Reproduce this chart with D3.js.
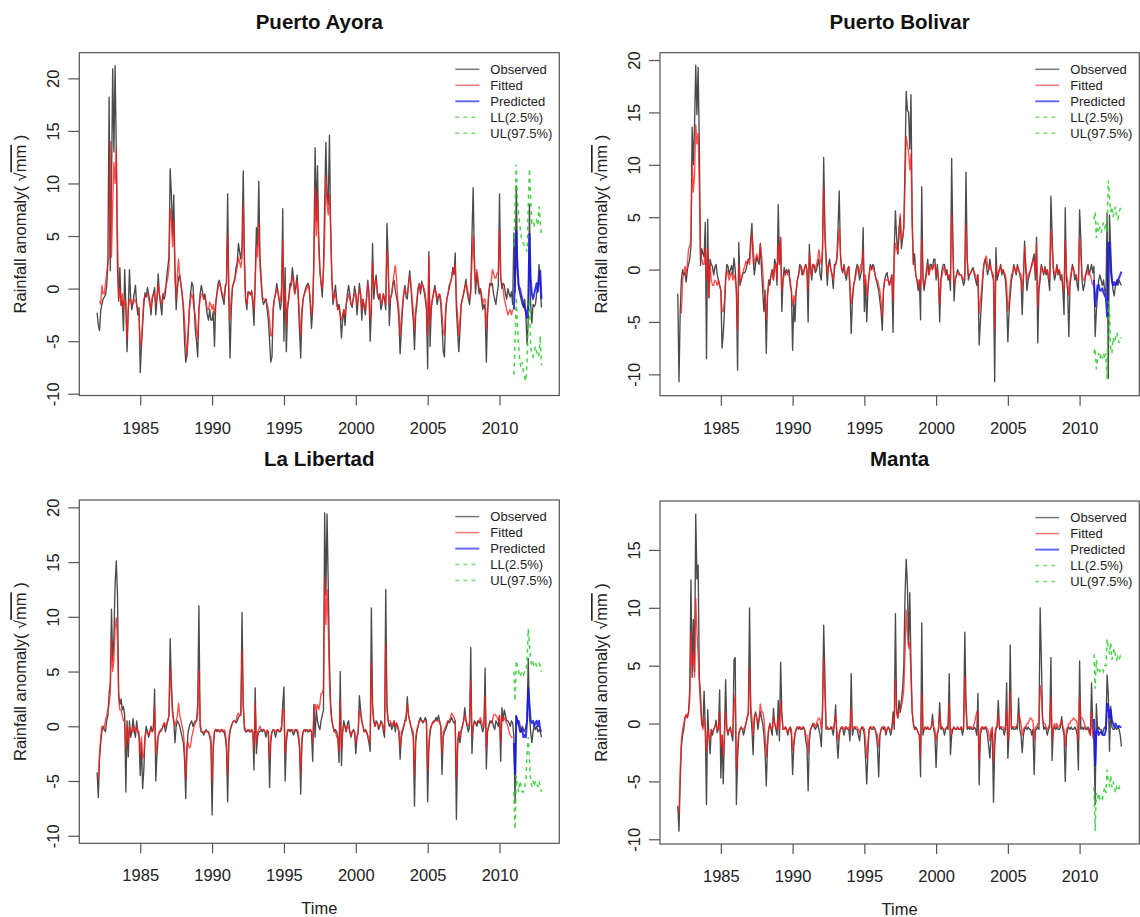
<!DOCTYPE html>
<html><head><meta charset="utf-8">
<script src="https://cdn.jsdelivr.net/npm/d3@7"></script>
<style>body{margin:0;background:#fff}</style>
</head><body>
<svg id="c" width="1140" height="917" xmlns="http://www.w3.org/2000/svg"></svg>
<script>
const startYear = 1982, predStart = 2011;
const xTicks = [1985,1990,1995,2000,2005,2010];
const titles = ["Puerto Ayora","Puerto Bolivar","La Libertad","Manta"];
const yTicksA = [-10,-5,0,5,10,15,20];
const yTicksB = [-10,-5,0,5,10,15];
const legendLabels = ["Observed","Fitted","Predicted","LL(2.5%)","UL(97.5%)"];

// ---------- Puerto Ayora ----------
const obsPA = [
-2.3,-3.5,-4.0,-2.1,-1.5,-1.0,-0.8,-0.6,0.2,2.5,18.2,1.7,
10.0,20.9,13.0,21.2,13.3,2.0,-1.2,2.0,-1.6,-1.2,-4.0,1.8,
-1.5,-6.0,-2.0,1.8,-1.0,-2.0,-1.2,-0.5,0.3,-1.5,-2.5,-1.8,
-8.0,-5.5,-3.5,-1.5,-0.4,-0.8,0.1,-0.5,-1.2,-2.5,-1.0,-0.5,
0.1,-2.5,-1.0,1.4,-0.6,-1.5,-2.5,-0.5,-1.0,-0.5,1.0,2.0,
3.0,11.4,9.0,5.0,8.9,2.0,-2.0,0.0,1.0,1.3,0.5,-0.5,
-2.0,-5.0,-7.0,-6.3,-4.5,-2.0,-0.5,0.6,0.3,-1.5,-4.0,-5.0,
-6.5,-2.0,-0.5,0.3,-0.3,-1.0,-0.5,-1.5,-2.5,-3.0,-2.0,-3.0,
-3.0,-2.2,-5.5,-1.5,-0.5,0.5,0.8,0.3,-0.5,-1.0,-1.5,0.3,
0.5,9.0,-1.5,-6.6,-2.0,0.0,0.6,1.0,2.0,2.5,4.3,3.5,
2.8,4.0,11.2,3.0,-1.0,-2.0,-0.3,-0.4,-0.6,-0.2,-1.5,-3.5,
1.0,5.8,4.0,10.2,3.0,1.0,-1.0,-1.5,-1.2,-1.0,-2.0,-3.0,
-5.0,-7.0,-6.5,-2.0,-1.0,-0.5,0.5,-0.3,-1.2,-2.0,-1.0,7.6,
-5.0,2.0,-6.0,-2.0,-1.0,0.5,0.3,2.0,1.0,-0.5,0.3,1.3,
-1.0,-4.0,-6.6,-2.5,-1.0,-0.5,0.0,0.3,0.5,0.2,-1.5,-3.8,
-2.0,3.0,13.4,6.5,11.7,5.0,2.0,0.5,-0.8,2.0,8.0,13.9,
9.0,8.0,14.6,5.7,1.0,-1.5,-0.5,0.3,-1.0,-2.0,-1.5,-2.5,
-4.7,-3.0,-2.0,-3.5,-1.5,-0.5,0.3,-0.5,-1.5,-1.8,-0.8,0.2,
-0.5,-2.5,-1.0,0.5,-0.5,-3.0,-1.0,-1.8,-2.5,-0.8,0.8,-0.5,
-5.0,-2.0,4.3,-1.0,0.5,1.3,-0.5,-1.0,-0.5,-2.0,-1.5,-0.5,
-1.0,-2.0,6.2,3.0,-3.5,-1.0,-0.5,0.5,0.8,-0.2,-0.8,-1.5,
-3.0,-6.2,-4.0,-2.0,-0.5,0.3,-0.8,-1.0,0.5,1.7,0.2,-1.5,
-3.0,-5.8,-2.5,-1.5,0.0,0.5,-0.5,0.7,0.3,-0.3,-1.0,-2.0,
-7.6,3.5,-5.5,-2.0,-1.0,-0.3,0.3,-0.5,-1.5,-0.8,-0.6,-1.5,
-3.5,-6.0,-6.5,-2.5,-1.0,-0.5,0.3,0.6,1.0,2.0,1.3,3.4,
-2.0,-4.0,-6.0,-4.0,-1.5,-1.0,-0.5,0.2,0.9,-0.3,-1.0,-1.5,
0.0,5.0,9.6,3.0,-0.5,1.5,0.5,-0.5,0.0,-1.0,-2.0,-1.5,
-2.0,-7.0,-2.5,-0.5,0.5,0.3,0.5,-0.5,-1.0,-1.5,-0.5,0.3,
9.0,1.0,0.0,0.5,0.3,-0.5,-1.0,0.0,-0.5,-0.8,-0.3,-1.5,
5.3,-0.3,9.8,2.0,0.0,-0.5,-1.0,-1.5,-1.8,-1.0,-2.5,-5.3,
-3.0,8.0,-1.5,-3.3,-1.5,-1.7,-1.5,-0.5,0.2,2.3,0.5,-1.8];
const fitPA = [
null,null,-1.2,-1.5,0.3,-0.5,-0.5,0.5,1.5,2.5,3.0,14.0,
3.0,8.0,12.0,10.0,13.3,5.0,-1.0,0.0,-1.5,-0.5,-2.0,-1.0,
-1.5,-4.8,-2.0,-1.0,-1.0,-1.5,-1.5,-1.0,-1.2,-1.5,-2.0,-2.5,
-5.5,-5.0,-3.0,-1.0,-0.8,-0.5,-0.5,-1.0,-1.5,-2.0,-0.8,-0.5,
-0.5,-1.5,-0.8,0.5,-0.5,-1.0,-1.5,-0.5,-0.5,0.0,0.5,1.0,
2.0,7.6,6.5,4.0,6.5,1.0,-1.0,1.3,2.8,1.0,0.3,-0.5,
-1.5,-3.0,-5.0,-6.5,-4.0,-2.0,-1.0,-0.5,-1.0,-2.0,-2.5,-4.0,
-4.8,-2.0,-1.0,-0.5,-0.5,-1.0,-0.8,-1.3,-2.0,-2.0,-1.3,-1.5,
-2.0,-1.5,-2.5,-1.5,-0.5,0.0,0.5,0.2,-0.3,-0.5,-1.0,0.0,
0.5,5.0,0.0,-3.0,-1.0,0.2,0.5,0.8,1.5,2.0,3.0,2.5,
2.0,3.0,8.0,2.0,-1.0,-1.5,-0.5,-0.3,-0.5,-0.3,-1.0,-2.0,
0.5,4.0,3.0,6.2,2.0,0.5,-0.8,-1.0,-1.0,-1.0,-1.5,-2.0,
-3.0,-4.5,-4.5,-2.0,-1.0,-0.5,0.0,-0.3,-1.0,-1.2,0.0,4.5,
-2.0,0.0,-3.5,-1.5,-1.0,0.0,0.3,1.2,0.5,-0.5,0.0,0.8,
-0.5,-2.5,-4.5,-2.0,-1.0,-0.5,-0.3,0.0,0.3,0.0,-1.0,-2.5,
-1.5,2.0,9.6,5.0,9.0,4.0,1.5,0.5,0.0,1.5,5.0,10.8,
8.0,7.0,9.0,5.7,1.0,-1.0,-0.8,-0.5,-1.5,-2.0,-1.8,-2.5,
-3.0,-2.5,-2.0,-2.5,-1.5,-1.0,-0.5,-1.0,-1.5,-1.5,-1.0,-0.5,
-0.5,-1.5,-1.0,0.0,-0.5,-2.0,-1.0,-1.5,-2.0,-1.0,0.5,-0.5,
-3.0,-1.5,2.5,0.0,0.5,1.0,-0.3,-0.8,-0.5,-1.5,-1.0,-0.5,
-1.0,-1.5,3.6,2.0,-1.5,-0.8,-0.5,0.5,1.5,2.2,1.0,-1.0,
-2.0,-4.5,-3.0,-1.5,-0.5,0.0,-0.5,-0.5,0.3,1.2,0.5,-1.0,
-2.0,-4.0,-2.0,-1.0,0.0,0.3,-0.3,0.5,0.3,0.0,-0.5,-1.5,
-4.5,3.0,-3.5,-1.5,-1.0,-0.5,0.0,-0.5,-1.0,-0.5,-0.5,-1.0,
-2.5,-4.0,-4.5,-2.0,-1.0,-0.5,0.0,0.5,1.0,1.8,1.5,2.3,
-1.0,-2.5,-4.5,-3.0,-1.5,-1.0,-0.5,0.0,0.5,0.0,-0.5,-1.0,
-0.5,2.5,5.0,2.0,0.5,1.8,1.0,0.0,0.0,-0.5,-1.5,-1.0,
-1.0,-4.0,-2.0,-0.5,0.5,0.5,1.8,1.5,1.0,1.0,1.5,1.5,
5.7,1.0,0.5,0.0,-1.0,-1.5,-2.0,-2.5,-2.2,-2.0,-2.5,-2.0];
const predPA = [-2.0,1.0,5.5,2.0,0.3,0.0,-0.5,-1.0,-1.5,-1.8,-2.2,-2.8,
-1.5,5.2,1.0,-0.5,-1.0,-0.5,0.0,0.5,-0.3,0.8,1.7,-1.0];
const ulPA = [4.0,8.0,11.8,8.3,7.0,6.0,5.0,4.5,4.3,4.0,3.8,3.5,
8.0,11.4,8.5,6.3,6.5,6.0,6.3,6.5,6.0,7.8,6.5,5.0];
const llPA = [-8.2,-5.0,-0.8,-3.5,-5.5,-7.0,-7.5,-7.0,-8.0,-8.5,-8.8,-7.0,
-3.0,-1.0,-5.5,-6.3,-6.5,-6.0,-5.5,-6.0,-6.5,-6.3,-4.5,-7.3];

// ---------- Puerto Bolivar ----------
const obsPB = [
-2.3,-10.7,-4.0,-1.0,0.0,-0.5,-0.3,-1.2,0.0,0.5,1.0,2.2,
13.6,10.0,13.7,19.5,14.8,19.3,12.0,0.4,2.0,1.5,1.2,4.5,
-8.5,4.8,-2.7,1.0,0.5,0.3,-0.5,0.2,0.5,-0.5,-1.0,-1.5,
-2.0,-7.5,-6.2,-4.0,-1.0,0.5,0.3,-0.5,0.0,0.4,-0.5,1.1,
0.0,-2.0,-9.6,2.6,-1.5,-1.0,-0.5,-0.3,-0.3,0.0,0.5,1.0,
1.0,3.0,4.4,1.0,-0.5,0.5,1.2,0.8,0.5,2.5,0.0,-2.0,
-4.0,-2.0,-8.0,-2.5,-1.0,-1.5,-0.5,0.0,-1.0,1.0,0.5,-1.5,
6.2,0.5,3.0,-4.0,-1.0,0.2,-0.5,0.0,-0.3,0.0,-1.5,-2.0,
-7.7,-3.0,-5.0,-2.0,-1.0,-0.5,0.5,0.3,-0.5,-0.3,0.2,0.5,
0.0,-5.0,2.4,0.0,-1.0,0.5,0.3,-0.3,0.0,0.5,1.0,-0.5,
-1.0,1.5,10.7,4.0,1.0,-1.5,0.5,1.0,0.0,-0.5,-1.8,0.5,
0.5,1.0,4.0,7.5,1.5,0.0,-0.3,0.5,-0.5,-1.0,0.0,0.3,
-2.0,-6.1,-3.0,-1.5,-1.0,0.0,0.5,0.0,-1.0,-0.5,0.0,4.0,
-4.0,-1.0,-5.0,-2.0,-0.5,0.5,0.0,0.5,0.3,-0.5,-1.0,-1.5,
-2.0,-3.0,-4.0,-5.8,-2.0,-1.0,-0.5,-0.3,-1.0,-1.5,-1.0,-0.5,
-6.0,2.0,5.6,3.0,1.5,4.0,5.0,2.0,3.0,4.0,10.0,17.0,
15.2,15.0,11.5,16.7,5.0,0.5,1.5,-0.5,-1.0,-2.0,-1.0,-4.8,
7.9,-1.0,-2.0,-1.0,0.0,1.0,-0.5,0.5,0.5,0.0,1.0,1.0,
-1.0,0.5,-1.0,-5.0,-1.0,0.0,0.5,0.5,-0.5,0.0,-1.0,-0.5,
-2.0,10.6,3.0,-3.0,-1.0,-0.5,0.0,-0.3,-0.5,-0.5,-1.0,-1.5,
-1.0,9.3,1.0,-1.0,-0.5,-0.3,0.0,0.2,-0.5,-1.0,-1.5,-0.5,
-7.2,-5.0,-3.0,-1.0,0.5,1.0,0.5,-0.5,0.0,1.0,0.0,-0.5,
-1.0,-10.7,2.1,-1.0,-0.5,0.0,0.5,-0.5,0.0,-0.5,-1.0,-3.0,
-6.9,-4.0,-2.5,-1.0,-0.5,0.5,0.0,-0.5,0.5,0.0,-0.5,-1.0,
-4.3,-1.0,2.7,0.0,-2.0,-1.0,-0.5,0.0,0.5,1.0,1.5,-1.0,
3.1,-7.0,-2.0,-1.0,0.5,0.0,-0.5,0.3,-0.5,0.0,-1.0,-2.0,
7.0,3.5,0.0,-1.0,-0.5,0.5,-0.5,0.0,-1.0,-0.5,-2.0,-4.3,
5.9,-1.0,-2.0,-6.4,-1.5,-0.5,0.5,0.0,-1.0,-0.5,-1.5,-2.0,
5.7,3.0,-1.0,-2.0,-1.5,-0.5,0.0,0.5,-0.5,0.0,0.5,-0.3,
0.3,-6.4,-4.0,-2.5,-1.0,-0.5,-1.0,-1.5,-1.0,-2.0,-2.5,5.4,
-10.4,5.2,2.0,-1.0,-2.0,-2.5,-1.5,-1.0,-1.5,-1.0,-1.3,-1.5];
const fitPB = [
null,null,null,-4.2,-1.0,-0.3,0.3,-0.5,0.5,2.0,2.2,3.0,
10.3,7.4,9.0,13.8,12.0,13.0,8.0,1.5,1.0,0.5,0.5,2.0,
-1.0,2.0,-2.7,0.5,-1.0,-1.5,-1.5,-1.0,-1.2,-1.5,-1.0,-1.5,
-2.0,-4.0,-4.0,-3.0,-1.0,0.0,-0.5,-1.0,-0.5,-0.3,-1.0,-0.5,
-1.0,-2.0,-5.8,0.5,-1.0,-1.0,-0.5,0.0,0.3,0.8,0.5,1.0,
0.5,2.0,3.4,2.0,0.5,1.0,1.5,1.0,1.0,2.4,1.5,0.0,
-2.0,-2.5,-4.8,-2.5,-1.5,-1.0,-0.5,0.0,-1.0,0.5,0.5,-1.0,
2.5,0.5,3.1,-2.0,-1.0,-0.5,-0.5,0.0,-0.5,-0.5,-1.0,-2.0,
-3.5,-2.5,-3.0,-2.0,-1.0,-0.5,0.0,0.3,0.0,-0.5,0.0,0.5,
0.0,-2.0,1.5,0.5,-0.5,0.5,0.5,0.0,0.5,1.0,1.9,1.0,
0.5,1.9,7.8,3.0,1.0,-0.5,0.5,0.5,0.0,-0.5,-1.0,0.0,
0.5,1.0,2.5,3.9,1.5,0.0,0.0,0.3,-0.5,-0.5,0.0,0.3,
-1.5,-3.2,-2.5,-1.5,-1.0,-0.5,0.0,0.3,-0.5,0.5,0.5,1.8,
-1.5,-0.5,-2.5,-1.5,-0.5,0.3,0.0,0.2,0.0,-0.5,-1.0,-1.0,
-1.5,-2.0,-3.0,-4.5,-2.0,-1.0,-1.0,-1.0,-1.0,-1.5,-1.0,-0.5,
-3.0,1.0,2.5,2.0,1.5,3.0,5.3,3.0,3.0,4.0,8.0,12.7,
12.0,11.2,9.5,11.0,4.0,0.5,0.5,-0.5,-1.0,-1.5,-1.0,-2.0,
2.9,-0.5,-1.5,-1.0,-0.5,0.5,-0.5,0.0,0.3,0.0,0.5,0.5,
-0.5,0.0,-1.0,-3.3,-1.0,-0.5,0.0,0.3,-0.5,-0.3,-0.8,-0.5,
-1.0,5.3,2.0,-1.5,-1.0,-0.5,-0.3,-0.5,-0.5,-0.5,-0.8,-1.0,
-0.5,4.4,1.0,-0.5,-0.5,-0.3,0.0,0.0,-0.3,-0.5,-1.0,-0.5,
-4.2,-3.0,-2.0,-0.5,0.5,1.0,1.3,0.5,0.0,0.5,0.0,-0.3,
-0.5,-5.8,0.5,-0.5,-0.3,0.0,0.3,-0.3,0.0,-0.3,-0.5,-1.5,
-4.0,-3.0,-1.5,-0.5,-0.3,0.3,0.0,-0.3,0.3,0.0,-0.3,-0.5,
-2.0,-0.5,2.2,0.5,-1.0,-0.5,-0.3,0.0,0.3,0.8,1.0,-0.5,
2.4,-3.6,-1.5,-0.5,0.3,0.0,-0.3,0.0,-0.3,0.0,-0.5,-1.0,
3.7,2.0,0.3,-0.5,-0.3,0.3,-0.3,0.0,-0.5,-0.5,-1.5,-2.0,
2.8,-0.5,-1.0,-2.5,-1.0,-0.3,0.3,0.0,-0.5,-0.5,-1.0,-1.0,
3.0,1.5,-0.5,-1.0,-1.0,-0.5,-0.5,0.0,-0.5,-0.5,-1.0,-1.5];
const predPB = [-1.0,-3.5,-2.5,-1.5,-1.5,-2.0,-2.0,-1.8,-2.2,-2.5,-2.7,-4.5,
2.5,2.6,0.0,-1.0,-1.5,-1.2,-1.5,-1.3,-1.0,-0.8,-0.5,-0.2];
const ulPB = [4.8,5.5,3.0,4.5,3.8,4.0,3.5,4.0,4.5,4.0,4.3,3.5,
8.5,7.0,5.5,6.0,5.0,5.5,6.0,5.0,4.8,5.5,5.8,6.0];
const llPB = [-8.0,-7.5,-9.5,-8.5,-8.0,-8.5,-8.0,-8.5,-8.0,-8.5,-8.0,-10.5,
-3.0,-4.0,-7.5,-8.0,-6.5,-7.0,-6.5,-6.0,-6.5,-7.0,-6.5,-6.5];

// ---------- La Libertad ----------
const obsLI = [
-4.2,-6.5,-3.0,-1.5,-0.5,0.0,-0.3,-0.5,0.5,1.0,3.0,4.0,
10.7,6.0,8.0,13.0,15.1,12.0,3.0,2.0,2.5,1.5,1.8,1.0,
-6.0,0.5,-2.8,0.5,-1.0,-0.5,0.7,-0.5,-1.0,0.5,-0.5,-1.0,
-4.5,-1.5,-5.7,-4.0,-1.0,0.0,-0.5,-1.0,-0.5,0.0,-0.5,-0.3,
3.4,-5.0,-2.5,-1.0,-0.5,-0.5,-0.3,0.0,0.3,-0.5,0.0,0.5,
1.0,8.0,4.0,1.5,0.5,-1.5,0.0,0.5,0.3,0.0,-0.5,-1.0,
-1.5,-3.0,-6.6,-2.0,-0.5,0.0,0.3,0.5,0.0,0.3,0.5,0.5,
2.0,11.0,0.0,-0.5,-0.5,-0.8,-0.5,-0.3,-0.5,-0.5,-1.0,-1.5,
-8.1,-2.0,-0.5,-0.3,-0.5,-0.3,-0.5,-0.5,-0.3,-0.5,-0.5,-1.0,
-2.0,-6.9,-1.5,-0.5,0.0,0.3,0.5,0.5,0.3,0.5,0.8,1.0,
1.0,10.4,2.0,-0.3,-0.5,-0.5,-0.3,-0.5,-0.5,-0.3,-0.5,-4.0,
3.5,-2.5,-1.0,-0.5,-0.5,-0.3,-0.5,-0.3,-0.5,-1.0,-0.5,-0.5,
-5.6,-1.5,-0.5,-0.3,-0.5,-1.0,-0.5,-0.3,-0.5,-0.5,-0.3,2.0,
3.6,-5.0,-1.5,-0.5,-0.3,-0.5,-0.3,-0.5,-0.8,-0.5,-0.3,-0.5,
-1.0,-2.0,-6.2,-1.5,-0.5,-0.3,-0.5,-0.3,-0.5,-0.5,-0.3,-0.5,
-3.2,2.0,-1.0,1.5,0.5,0.0,-0.3,0.5,1.0,1.5,19.5,12.0,
19.4,12.8,6.0,2.0,0.5,0.0,-0.5,-0.3,-0.5,-1.0,-3.3,5.0,
-3.6,-0.5,0.5,0.0,-0.5,0.3,0.5,-0.5,-1.0,-0.5,-0.3,-0.5,
-2.5,-1.0,-0.5,2.8,1.5,0.5,0.0,-0.5,-0.3,-0.5,-1.0,-1.5,
-2.3,10.8,2.0,0.5,0.0,0.5,0.3,-0.3,0.0,0.5,0.3,-0.5,
-1.0,12.5,2.0,0.5,0.0,0.3,-0.3,0.0,0.5,-0.5,0.3,0.0,
-0.5,-3.0,-1.0,-0.5,0.0,0.5,0.5,2.7,1.0,0.5,0.0,-0.5,
-1.0,-7.3,-1.5,-0.5,0.0,0.5,0.8,0.5,0.3,0.5,0.8,0.5,
-6.9,-2.0,-0.5,0.0,0.3,0.5,0.5,0.8,0.5,1.0,0.5,0.0,
-4.4,-1.0,-0.5,-0.3,0.0,0.5,0.3,0.5,0.8,0.5,0.3,0.5,
-8.5,-2.0,-0.5,-1.5,-0.5,0.0,0.5,1.7,0.5,0.0,-0.5,0.0,
7.2,-2.5,0.0,0.5,0.3,0.0,0.5,0.3,0.5,0.0,-0.5,0.0,
5.3,-3.9,-0.5,0.0,0.5,0.3,0.5,0.0,-0.3,0.5,0.3,0.0,
1.0,-3.2,1.7,0.5,1.5,1.0,0.5,0.5,0.3,0.0,0.5,0.3,
-1.0,-7.0,1.0,0.5,0.0,-0.5,-0.5,0.0,-0.3,-0.5,0.0,0.5,
6.2,1.0,-0.5,-1.5,-0.5,0.0,-0.3,0.0,-0.5,-0.3,-0.5,-1.0];
const fitLI = [
null,-4.9,-2.5,-1.0,0.0,-0.3,0.0,0.5,1.0,1.5,2.0,3.0,
8.0,5.0,6.0,9.0,9.9,8.0,2.5,1.5,1.5,1.0,0.5,0.5,
-2.0,0.0,-1.5,0.0,-0.5,-0.3,-0.5,0.0,-0.5,0.0,-0.5,-0.5,
-2.5,-1.0,-3.0,-2.5,-1.0,-0.5,-0.5,-0.8,-0.5,-0.3,-0.5,0.0,
1.8,-2.5,-1.5,-0.8,-0.5,-0.3,-0.3,0.0,0.3,0.0,0.3,0.5,
1.0,5.3,3.0,1.0,0.5,0.0,0.5,1.0,2.1,1.0,0.5,0.0,
-0.5,-2.0,-4.8,-2.0,-1.5,-2.0,-1.8,-1.0,-0.5,0.0,0.3,0.5,
1.0,5.1,0.5,-0.5,-0.5,-0.5,-0.5,-0.5,-0.5,-0.5,-0.8,-1.0,
-4.9,-1.5,-0.5,-0.3,-0.3,-0.3,-0.5,-0.3,-0.3,-0.5,-0.3,-0.5,
-1.5,-4.4,-1.0,-0.3,0.0,0.3,0.5,0.5,0.5,1.0,1.2,1.0,
1.0,6.9,2.0,0.0,-0.3,-0.5,-0.3,-0.3,-0.5,-0.5,-0.5,-2.0,
2.1,-1.5,-0.5,-0.3,0.0,-0.3,-0.3,-0.3,-0.5,-0.5,-0.3,-0.5,
-3.0,-1.0,-0.5,-0.3,-0.3,-0.5,-0.3,-0.3,-0.5,-0.3,0.0,1.5,
1.5,-2.5,-1.0,-0.3,-0.3,-0.3,-0.3,-0.3,-0.5,-0.3,-0.3,-0.3,
-0.5,-1.5,-4.3,-1.0,-0.5,-0.3,-0.3,-0.3,-0.5,-0.3,-0.3,-0.5,
-1.5,1.0,2.0,1.5,2.0,1.5,2.0,3.0,3.0,3.5,13.6,9.3,
12.5,9.0,4.0,1.5,0.5,0.0,-0.5,-0.5,-1.0,-1.0,-2.3,2.4,
-2.0,-0.5,0.0,0.0,-0.5,0.0,0.0,-0.5,-0.8,-0.5,-0.5,-0.5,
-1.5,-1.0,-0.5,1.5,1.0,0.5,0.0,-0.5,-0.5,-0.5,-0.8,-1.0,
-1.5,5.8,1.5,0.5,0.0,0.3,0.3,0.0,0.0,0.3,0.3,0.0,
-0.5,7.5,1.5,0.5,0.5,0.5,0.0,0.3,0.5,0.0,0.3,0.0,
-0.5,-2.0,-0.5,-0.3,0.0,0.5,1.0,2.0,1.0,0.5,0.0,-0.3,
-0.5,-4.5,-1.0,-0.3,0.0,0.5,0.5,0.5,0.5,0.5,0.5,0.3,
-4.0,-1.5,-0.3,0.0,0.3,0.3,0.5,0.5,0.5,0.5,0.3,0.0,
-2.5,-0.5,-0.3,0.0,0.3,0.5,0.5,0.8,1.2,1.0,0.8,0.5,
-4.9,-1.5,-0.5,-1.0,-0.3,0.0,0.5,1.0,0.5,0.3,0.0,0.3,
4.2,-1.0,0.0,0.3,0.3,0.3,0.5,0.5,0.8,0.5,0.0,0.3,
2.8,-2.0,-0.3,0.0,0.3,0.5,0.5,1.0,1.1,1.0,0.8,0.5,
1.0,-1.5,1.0,0.5,0.8,0.5,0.3,0.0,-0.5,-0.8,-1.0,-1.0];
const predLI = [-1.5,-4.3,0.9,0.3,0.5,0.0,-0.5,-0.3,-1.0,-0.8,-1.0,0.5,
3.5,2.0,0.5,0.3,0.5,0.0,0.3,0.5,0.0,0.5,-0.3,-0.5];
const ulLI = [5.0,2.3,6.0,5.5,5.0,4.5,4.8,5.0,4.7,5.0,5.0,6.0,
8.9,7.5,6.0,5.5,5.8,5.5,5.8,5.5,5.5,5.8,5.5,5.0];
const llLI = [-6.0,-9.4,-4.5,-5.5,-6.0,-5.0,-5.5,-6.0,-6.0,-5.5,-5.0,-2.5,
-1.0,-3.0,-5.0,-5.5,-5.0,-5.5,-5.0,-5.3,-5.5,-5.0,-5.5,-6.0];

// ---------- Manta ----------
const obsMA = [
-7.1,-9.3,-5.0,-2.0,-1.0,-0.5,0.5,0.7,0.5,1.0,3.0,12.4,
4.0,9.0,4.5,18.1,12.5,13.7,4.0,2.5,0.0,-0.3,2.8,-0.5,
-7.0,1.2,-1.0,-2.6,-0.5,-1.0,-0.5,-0.3,0.3,-0.8,-0.5,2.9,
-4.7,-1.0,-5.2,-1.0,3.8,-0.5,-1.0,-0.5,-0.3,-1.0,-1.5,5.5,
5.7,-7.0,-3.0,-1.0,-0.5,-0.3,-0.5,-1.0,-0.5,0.0,0.5,1.0,
10.0,1.0,-0.5,-2.7,0.5,1.0,0.5,-0.5,0.3,1.0,0.5,0.0,
-1.0,-2.5,-5.4,-2.0,-0.5,0.0,-0.5,-1.0,1.3,0.0,-0.5,-1.0,
2.0,-1.5,5.3,1.0,-0.5,-0.5,-0.3,-0.5,-1.0,-0.5,-0.3,-1.0,
-4.4,-2.0,-1.0,-0.5,-0.3,-0.5,-0.3,-0.5,-0.5,-0.3,-0.5,-1.5,
-2.0,-5.8,-1.5,-0.5,-0.3,0.0,-0.3,-0.5,-0.3,0.0,-0.5,-1.0,
-2.0,1.0,8.5,4.0,-0.5,-0.3,-0.5,-0.5,-0.3,-0.5,-1.0,0.0,
1.6,-1.5,-3.0,-1.0,-0.5,-0.3,-0.5,-1.0,-0.5,-0.3,-0.5,-0.5,
-1.5,4.3,-1.0,-0.5,-0.3,-0.5,-0.5,-1.0,-1.5,-0.5,-0.3,-0.5,
-1.0,-3.0,-5.2,-2.5,-0.5,-0.3,-0.5,-0.5,-0.3,-0.5,-1.0,-2.0,
-4.6,-1.0,-0.5,-0.3,-0.5,-0.3,-1.0,-0.5,-0.3,-0.5,-1.0,-0.5,
1.0,-0.5,9.5,1.0,0.5,2.0,1.0,2.0,3.0,5.0,11.0,14.2,
12.0,6.8,11.3,5.0,1.0,0.0,-0.5,-0.3,-0.5,-0.8,-1.0,-4.6,
8.7,-1.0,-0.5,-0.3,-0.5,-0.3,-0.5,-0.5,-0.3,0.8,-0.5,-1.0,
-3.8,-1.0,-0.5,1.8,-0.5,-0.3,-0.5,-1.0,-0.5,-0.3,-0.5,4.3,
-2.7,-1.0,-0.5,-0.3,-0.5,-0.5,-0.3,-0.5,-0.5,-0.3,-1.0,-0.5,
7.9,2.0,-0.5,-0.3,-0.5,-0.3,-0.5,-0.5,-0.3,-0.5,-1.0,2.6,
-5.3,-1.0,-0.5,-0.3,-0.5,-0.3,-0.5,-1.0,-2.0,-3.0,-1.0,-0.5,
-6.8,-2.0,-0.5,-0.3,2.0,-0.5,-0.3,-0.5,-0.5,-1.0,-0.5,3.5,
-3.0,-1.0,6.8,-0.5,-0.3,-0.5,-0.5,-0.3,-0.5,2.2,-0.5,-1.0,
-2.5,-1.0,-0.5,-0.3,-0.5,-0.3,-0.5,-0.5,-1.0,-0.5,-4.4,-0.5,
-0.5,-0.3,-0.5,10.0,5.7,0.5,-0.5,-0.3,-0.5,-1.0,-0.5,-0.3,
5.7,-3.2,-0.5,-0.3,-0.5,-0.3,-0.5,-0.5,-0.3,0.6,-0.5,-1.0,
-5.0,-1.0,-0.5,-0.3,-0.5,-0.3,-0.5,-0.5,-0.3,-0.5,-1.0,-4.0,
5.4,-0.5,-0.3,-0.5,-0.3,-0.5,-0.5,-0.3,-0.5,-1.0,3.5,-0.5,
-1.0,-7.0,1.7,-0.5,-0.3,-0.5,-0.5,-1.0,-0.5,-0.3,-0.5,4.2,
2.5,-2.4,1.5,-0.3,-0.5,-0.5,-0.3,-0.5,-0.3,-0.5,-1.0,-2.0];
const fitMA = [
null,-7.8,-4.0,-1.5,-0.5,0.0,0.5,0.8,0.5,1.0,2.0,8.0,
5.0,6.0,4.0,10.8,8.0,6.0,3.5,1.5,0.0,-0.5,0.5,-0.5,
-2.5,-0.5,-1.0,-1.5,-0.5,-0.8,-0.5,-0.3,0.0,-0.5,-0.5,1.0,
-2.0,-1.0,-2.8,-1.0,1.0,-0.5,-0.8,-0.5,-0.5,-0.8,-1.0,1.5,
2.5,-4.0,-2.0,-0.8,-0.5,-0.3,-0.5,-0.5,-0.3,0.0,0.5,0.8,
4.8,1.5,0.5,-1.0,0.5,0.8,0.5,0.0,0.5,1.7,1.0,1.0,
0.5,-1.0,-2.9,-1.5,-0.5,0.0,-0.3,-0.5,0.5,0.0,-0.3,-0.5,
0.5,-0.5,1.9,0.5,-0.5,-0.5,-0.3,-0.5,-0.8,-0.5,-0.3,-0.5,
-2.3,-1.5,-0.8,-0.5,-0.3,-0.3,-0.3,-0.5,-0.3,-0.3,-0.5,-1.0,
-1.0,-2.5,-1.0,-0.5,-0.3,0.0,0.0,-0.3,0.0,0.3,0.5,0.3,
-0.5,1.0,5.6,2.5,-0.3,-0.3,-0.5,-0.5,-0.3,-0.3,-0.5,0.0,
0.8,-0.5,-1.5,-0.8,-0.5,-0.3,-0.3,-0.5,-0.3,-0.3,-0.5,-0.3,
-0.5,1.4,-0.5,-0.3,-0.3,-0.3,-0.3,-0.5,-0.8,-0.5,-0.3,-0.3,
-0.5,-1.5,-3.0,-1.5,-0.5,-0.3,-0.3,-0.3,-0.3,-0.5,-0.8,-1.0,
-2.0,-1.0,-0.5,-0.3,-0.3,-0.3,-0.8,-0.5,-0.3,-0.5,-0.5,-0.5,
0.5,0.0,3.8,1.0,0.5,1.0,1.0,1.5,2.0,3.0,6.0,9.8,
8.0,6.5,7.0,4.0,1.0,0.0,-0.5,-0.5,-0.5,-0.8,-1.0,-2.8,
2.6,-0.5,-0.5,-0.3,-0.5,-0.3,-0.5,-0.5,-0.3,0.3,-0.3,-0.5,
-1.5,-0.8,-0.5,0.8,-0.3,-0.3,-0.5,-0.5,-0.5,-0.3,-0.3,1.8,
-1.0,-0.5,-0.5,-0.3,-0.5,-0.5,-0.3,-0.5,-0.5,-0.3,-0.5,-0.3,
4.1,1.0,-0.3,-0.3,-0.3,-0.3,-0.5,-0.3,0.0,0.5,1.0,1.0,
-3.1,-0.5,-0.3,-0.3,-0.5,-0.3,-0.3,-0.5,-0.8,-1.5,-0.5,-0.3,
-3.3,-1.0,-0.3,-0.3,0.8,-0.3,-0.3,-0.3,-0.3,-0.5,-0.3,1.2,
-1.5,-0.5,2.7,-0.3,-0.3,-0.3,-0.3,-0.3,0.0,0.8,0.5,0.0,
-1.0,-0.5,-0.3,-0.3,0.0,0.0,0.3,0.5,0.3,0.3,-1.5,-0.3,
-0.3,0.0,0.0,3.3,2.5,0.5,0.0,0.0,-0.3,-0.5,-0.3,0.0,
2.3,-1.5,-0.3,0.0,-0.3,0.0,-0.3,-0.3,0.0,0.3,-0.3,-0.5,
-2.0,-0.5,-0.3,0.0,0.0,0.3,0.3,0.5,0.3,0.3,0.0,-1.5,
2.3,0.5,0.5,0.3,0.0,-0.3,-0.5,-0.5,-0.8,-1.0,1.0,-1.3];
const predMA = [0.4,-3.6,-0.7,-0.5,-1.0,-0.8,-0.7,-0.9,-1.0,-1.0,-0.5,1.7,
1.5,0.5,1.2,0.3,0.0,-0.3,0.0,-0.2,-0.3,-0.2,-0.3,-0.3];
const ulMA = [6.0,3.0,5.5,4.5,4.8,4.5,4.7,4.8,4.5,5.0,5.0,7.3,
6.5,6.0,7.0,5.5,6.0,6.5,5.8,5.5,5.8,5.5,5.8,5.5];
const llMA = [-5.5,-9.3,-6.0,-6.5,-6.0,-6.5,-6.3,-6.5,-6.0,-5.5,-6.0,-4.0,
-5.0,-5.5,-4.5,-5.5,-5.0,-5.5,-6.0,-5.5,-5.8,-5.5,-5.8,-6.0];

// ---------- drawing ----------
const svg = d3.select("#c");
const FONT = "'Liberation Sans', Arial, Helvetica, sans-serif";
const COL = {obs:"#4b4b4b", fit:"rgba(255,25,25,0.78)", pred:"rgba(20,20,235,0.85)", ci:"rgba(40,205,40,0.85)"};

const panels = [
 {title:titles[0], obs:obsPA, fit:fitPA, pred:predPA, ll:llPA, ul:ulPA, yt:yTicksA,
  l:79.3, r:559.3, t:52.7, b:395.5, yd:[-10.17,22.44], timeLab:false, titleY:29},
 {title:titles[1], obs:obsPB, fit:fitPB, pred:predPB, ll:llPB, ul:ulPB, yt:yTicksA,
  l:660, r:1139.3, t:52.7, b:395.7, yd:[-12.04,20.7], timeLab:false, titleY:29},
 {title:titles[2], obs:obsLI, fit:fitLI, pred:predLI, ll:llLI, ul:ulLI, yt:yTicksA,
  l:79.3, r:559.3, t:500, b:843.3, yd:[-10.69,20.67], timeLab:true, titleY:466},
 {title:titles[3], obs:obsMA, fit:fitMA, pred:predMA, ll:llMA, ul:ulMA, yt:yTicksB,
  l:660, r:1139.3, t:501, b:844, yd:[-10.41,19.23], timeLab:true, titleY:466}
];

const toSeries = (arr, start) => arr.map((v,i)=>[start + i/12, v]);
const plainFmt = d => String(d);

panels.forEach((p, k) => {
  const g = svg.append("g");
  const x = d3.scaleLinear().domain([1980.76, 2014.16]).range([p.l, p.r]);
  const y = d3.scaleLinear().domain(p.yd).range([p.b, p.t]);
  const cid = "clip" + k;
  svg.append("clipPath").attr("id", cid).append("rect")
    .attr("x", p.l).attr("y", p.t).attr("width", p.r - p.l).attr("height", p.b - p.t);
  const plot = g.append("g").attr("clip-path", `url(#${cid})`);
  const line = d3.line().defined(d => d[1] != null).x(d => x(d[0])).y(d => y(d[1]));

  plot.append("path").datum(toSeries(p.obs, startYear)).attr("d", line)
    .attr("fill","none").attr("stroke", COL.obs).attr("stroke-width",1.35).attr("stroke-linejoin","round");
  plot.append("path").datum(toSeries(p.fit, startYear)).attr("d", line)
    .attr("fill","none").attr("stroke", COL.fit).attr("stroke-width",1.35).attr("stroke-linejoin","round");
  plot.append("path").datum(toSeries(p.pred, predStart)).attr("d", line)
    .attr("fill","none").attr("stroke", COL.pred).attr("stroke-width",2).attr("stroke-linejoin","round");
  [p.ll, p.ul].forEach(a => {
    plot.append("path").datum(toSeries(a, predStart)).attr("d", line)
      .attr("fill","none").attr("stroke", COL.ci).attr("stroke-width",1.5).attr("stroke-dasharray","4,4");
  });

  // box
  g.append("rect").attr("x", p.l).attr("y", p.t).attr("width", p.r - p.l).attr("height", p.b - p.t)
    .attr("fill","none").attr("stroke","#555").attr("stroke-width",1.2);

  // x axis
  const xa = g.append("g").attr("transform", `translate(0,${p.b})`)
    .call(d3.axisBottom(x).tickValues(xTicks).tickFormat(plainFmt).tickSize(10).tickPadding(10));
  xa.select(".domain").remove();
  xa.selectAll("line").attr("stroke","#555").attr("stroke-width",1.2);
  xa.selectAll("text").attr("font-family", FONT).attr("font-size","16.5px").attr("fill","#222")
    .attr("dy", null).attr("y", 38);

  // y axis
  const ya = g.append("g").attr("transform", `translate(${p.l},0)`)
    .call(d3.axisLeft(y).tickValues(p.yt).tickFormat(plainFmt).tickSize(11));
  ya.select(".domain").remove();
  ya.selectAll("line").attr("stroke","#555").attr("stroke-width",1.2);
  ya.selectAll("text").attr("font-family", FONT).attr("font-size","16.5px").attr("fill","#222")
    .attr("x", null).attr("dy", null).attr("text-anchor","middle")
    .attr("transform","translate(-20,0) rotate(-90)");

  // y title
  const yt = g.append("text").attr("font-family", FONT).attr("font-size","16.5px").attr("fill","#222")
    .attr("text-anchor","middle")
    .attr("transform", `translate(${p.l - 53},${(p.t + p.b)/2}) rotate(-90)`);
  yt.append("tspan").text("Rainfall anomaly( \u221A");
  yt.append("tspan").attr("style","text-decoration:overline").text("mm");
  yt.append("tspan").text(" )");

  // title
  g.append("text").attr("x", (p.l + p.r)/2).attr("y", p.titleY).attr("text-anchor","middle")
    .attr("font-family", FONT).attr("font-size","20.5px").attr("font-weight","bold").attr("fill","#111")
    .text(p.title);

  if (p.timeLab) {
    g.append("text").attr("x", (p.l + p.r)/2).attr("y", p.b + 70.7).attr("text-anchor","middle")
      .attr("font-family", FONT).attr("font-size","16.5px").attr("fill","#222").text("Time");
  }

  // legend
  const lc = [COL.obs, COL.fit, COL.pred, COL.ci, COL.ci];
  const lw = [1.5, 1.5, 2, 1.5, 1.5];
  legendLabels.forEach((lab, i) => {
    const yy = p.t + 16.6 + i * 16;
    g.append("line").attr("x1", p.r - 104).attr("x2", p.r - 80).attr("y1", yy).attr("y2", yy)
      .attr("stroke", lc[i]).attr("stroke-width", lw[i]).attr("opacity", 0.75)
      .attr("stroke-dasharray", i >= 3 ? "4,4" : null);
    g.append("text").attr("x", p.r - 69).attr("y", yy + 4.6)
      .attr("font-family", FONT).attr("font-size","13px").attr("fill","#222").text(lab);
  });
});
</script>
</body></html>
